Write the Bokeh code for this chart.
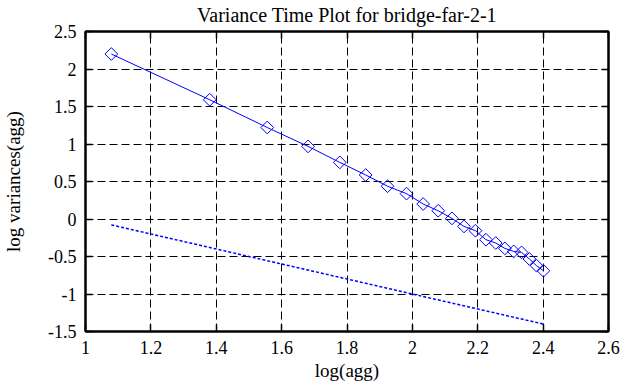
from bokeh.plotting import figure
from bokeh.models import Range1d, LinearAxis, FixedTicker
from bokeh.embed import file_html
from bokeh.resources import INLINE

# ---- data ----
log_agg = [1.079, 1.380, 1.556, 1.681, 1.778, 1.857, 1.924, 1.982, 2.033, 2.079,
           2.121, 2.158, 2.193, 2.225, 2.255, 2.283, 2.310, 2.334, 2.358, 2.380, 2.401]
log_var = [2.200, 1.590, 1.220, 0.968, 0.755, 0.587, 0.437, 0.338, 0.200, 0.110,
           0.008, -0.099, -0.156, -0.276, -0.320, -0.392, -0.432, -0.445, -0.533, -0.623, -0.690]
ref_x = [1.079, 2.401]
ref_y = [-0.079, -1.401]

x_ticks = [1.0, 1.2, 1.4, 1.6, 1.8, 2.0, 2.2, 2.4, 2.6]
x_labels = ["1", "1.2", "1.4", "1.6", "1.8", "2", "2.2", "2.4", "2.6"]
y_ticks = [-1.5, -1.0, -0.5, 0.0, 0.5, 1.0, 1.5, 2.0, 2.5]
y_labels = ["-1.5", "-1", "-0.5", "0", "0.5", "1", "1.5", "2", "2.5"]

title_text = "Variance Time Plot for bridge-far-2-1"
x_title = "log(agg)"
y_title = "log variances(agg)"

FONT = "'Liberation Serif'"
BLUE = "#0000ff"

p = figure(width=620, height=387,
           x_range=Range1d(1.0, 2.6), y_range=Range1d(-1.5, 2.5),
           output_backend="svg", toolbar_location=None,
           min_border_left=82, min_border_right=12,
           min_border_top=31, min_border_bottom=56,
           title=title_text)

p.title.align = "center"
p.title.text_font = FONT
p.title.text_font_size = "20px"
p.title.text_font_style = "normal"
p.title.text_color = "black"
p.title.standoff = 7
p.title.vertical_align = "top"

p.background_fill_color = "white"
p.border_fill_color = "white"
p.outline_line_color = "black"
p.outline_line_width = 2

bottom_axis = p.xaxis[0]
left_axis = p.yaxis[0]


def style_axis(ax, ticks, labels, show):
    ax.ticker = FixedTicker(ticks=ticks)
    ax.axis_line_color = "black"
    ax.axis_line_width = 2
    ax.major_tick_in = 7
    ax.major_tick_out = 0
    ax.major_tick_line_color = "black"
    ax.major_tick_line_width = 1.5
    ax.minor_tick_line_color = None
    if show:
        ax.major_label_overrides = {t: s for t, s in zip(ticks, labels)}
        ax.major_label_text_font = FONT
        ax.major_label_text_font_size = "18px"
        ax.major_label_text_color = "black"
    else:
        ax.major_label_overrides = {t: "" for t in ticks}
        ax.major_label_text_font_size = "0px"
        ax.major_label_standoff = 0


style_axis(bottom_axis, x_ticks, x_labels, True)
style_axis(left_axis, y_ticks, y_labels, True)
bottom_axis.major_label_standoff = 9
left_axis.major_label_standoff = 9

top_axis = LinearAxis()
style_axis(top_axis, x_ticks, x_labels, False)
p.add_layout(top_axis, "above")
right_axis = LinearAxis()
style_axis(right_axis, y_ticks, y_labels, False)
p.add_layout(right_axis, "right")

bottom_axis.axis_label = x_title
left_axis.axis_label = y_title
for ax in (bottom_axis, left_axis):
    ax.axis_label_text_font = FONT
    ax.axis_label_text_font_size = "19px"
    ax.axis_label_text_font_style = "normal"
    ax.axis_label_text_color = "black"
bottom_axis.axis_label_standoff = 3
left_axis.axis_label_standoff = 21

p.xgrid.ticker = FixedTicker(ticks=x_ticks)
p.ygrid.ticker = FixedTicker(ticks=y_ticks)
for g in (p.xgrid, p.ygrid):
    g.grid_line_color = "black"
    g.grid_line_width = 1
    g.grid_line_dash = "8 4"

p.line(ref_x, ref_y, line_color=BLUE, line_width=1.5, line_dash="3 2")
p.line(log_agg, log_var, line_color=BLUE, line_width=1)
p.scatter(log_agg, log_var, marker="square", size=9, angle=45, angle_units="deg",
          line_color=BLUE, line_width=1, fill_color=None)

open("out.html", "w").write(file_html(p, INLINE))
